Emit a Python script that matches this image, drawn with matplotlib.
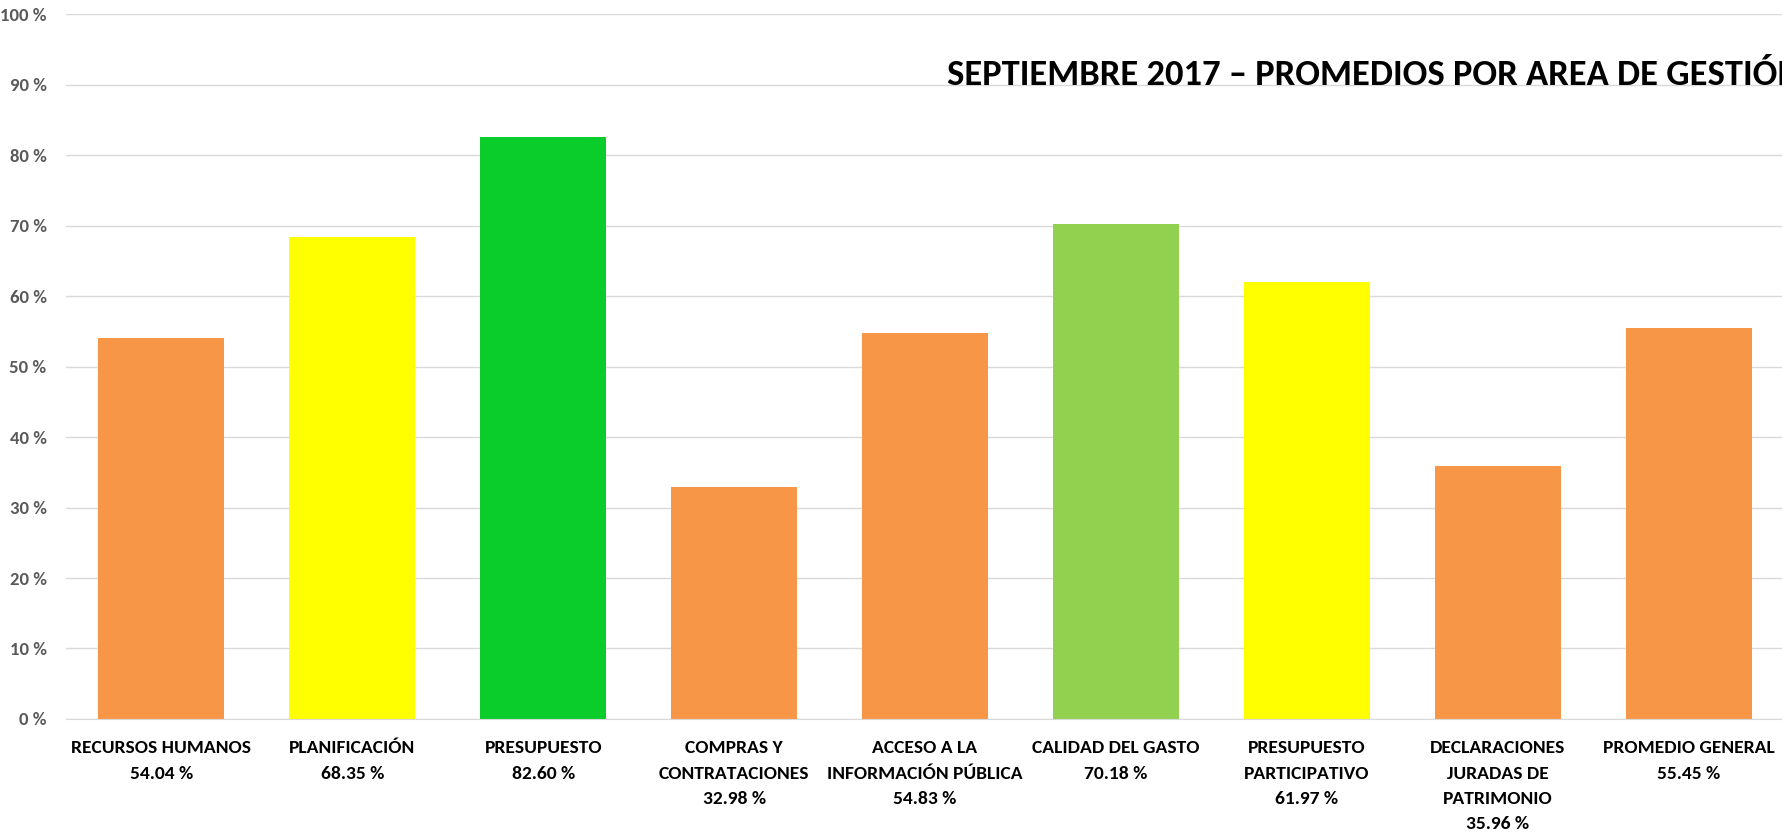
"""
Septiembre 2017 - promedios por area de gestion (bar chart)
"""

import matplotlib
matplotlib.use("Agg")
import matplotlib.pyplot as plt
from matplotlib.ticker import FuncFormatter

# ───────────────────────────────
# Data
# ───────────────────────────────
areas = [
    "RECURSOS HUMANOS",
    "PLANIFICACIÓN",
    "PRESUPUESTO",
    "COMPRAS Y\nCONTRATACIONES",
    "ACCESO A LA\nINFORMACIÓN PÚBLICA",
    "CALIDAD DEL GASTO",
    "PRESUPUESTO\nPARTICIPATIVO",
    "DECLARACIONES\nJURADAS DE\nPATRIMONIO",
    "PROMEDIO GENERAL",
]
promedios = [54.04, 68.35, 82.60, 32.98, 54.83, 70.18, 61.97, 35.96, 55.45]
colores = ["#F79646", "#FFFF00", "#0ACC2A", "#F79646", "#F79646",
           "#92D050", "#FFFF00", "#F79646", "#F79646"]
titulo = "SEPTIEMBRE 2017 – PROMEDIOS POR AREA DE GESTIÓN"

# Calibri-like font, with fallbacks
FONT = ["Carlito", "Fira Sans Condensed", "DejaVu Sans"]

# ───────────────────────────────
# Plot
# ───────────────────────────────
fig = plt.figure(figsize=(17.83, 8.36), dpi=100)
ax = fig.add_axes([0.037, 0.140, 0.963, 0.843])

x = list(range(len(areas)))
ax.bar(x, promedios, width=0.66, color=colores, zorder=2)

ax.set_xlim(-0.5, len(areas) - 0.506)
ax.set_ylim(0, 100)
ax.set_yticks(range(0, 101, 10))
ax.yaxis.set_major_formatter(FuncFormatter(lambda v, _: f"{int(v)} %"))
ax.grid(axis="y", color="#D9D9D9", linewidth=1, zorder=0)

for s in ["top", "right", "left"]:
    ax.spines[s].set_visible(False)
ax.spines["bottom"].set_color("#D9D9D9")

etiquetas = [f"{a}\n{v:.2f} %" for a, v in zip(areas, promedios)]
ax.set_xticks(x)
ax.set_xticklabels(etiquetas, family=FONT, fontweight="bold",
                   fontsize=14, color="black", linespacing=1.7)
ax.tick_params(axis="x", length=0, pad=15.5)
ax.tick_params(axis="y", length=0, pad=14)
for lbl in ax.get_yticklabels():
    lbl.set_family(FONT)
    lbl.set_fontweight("bold")
    lbl.set_fontsize(13.5)
    lbl.set_color("#595959")

fig.text(0.5311, 0.8986, titulo, family=FONT, fontweight="bold",
         fontsize=26.3, ha="left", va="baseline", color="black")

fig.savefig("out.png", dpi=100)
